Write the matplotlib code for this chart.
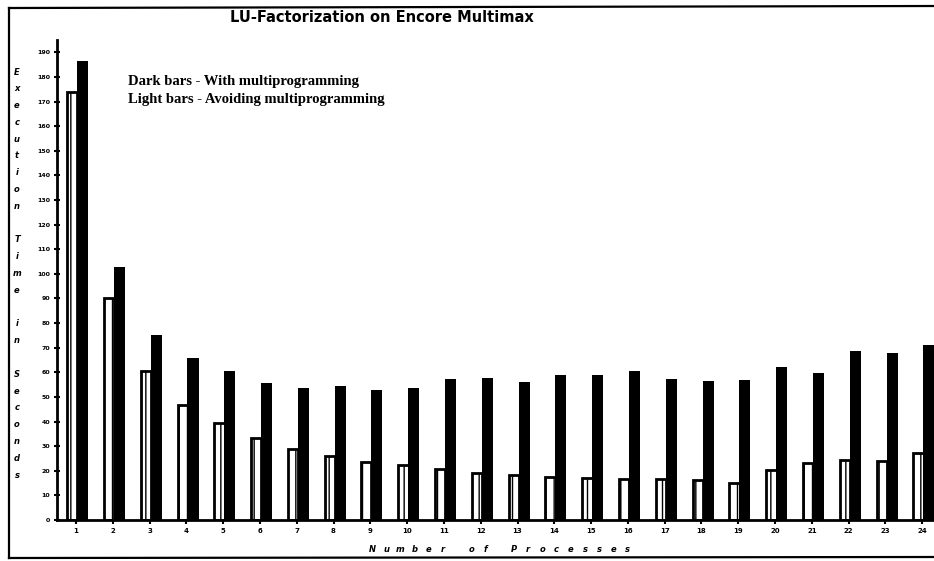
import matplotlib
matplotlib.use("Agg")
import matplotlib.pyplot as plt
from matplotlib.lines import Line2D
import numpy as np

# number of processes on the x axis
procs = list(range(1, 25))

# execution time in seconds
avoid_mp = [174, 90, 60.6, 46.7, 39.4, 33.5, 29, 26, 23.6, 22.2, 20.9, 19.2,
            18.3, 17.6, 16.9, 16.5, 16.5, 16.1, 14.9, 20.2, 23.2, 24.3, 24, 27.4]
with_mp = [186.4, 102.6, 75.2, 65.9, 60.6, 55.8, 53.8, 54.5, 52.7, 53.5, 57.2, 57.5,
           56.2, 59.1, 58.8, 60.4, 57.2, 56.5, 56.9, 62.3, 59.8, 68.6, 67.9, 71]

yticks = list(range(0, 200, 10))

title = "LU-Factorization on Encore Multimax"
note_dark = "Dark bars - With multiprogramming"
note_light = "Light bars - Avoiding multiprogramming"
ylabel = "Execution Time in Seconds"
xlabel = "Number of Processes"

plt.rcParams["hatch.linewidth"] = 1.0

W, H = 934, 561
fig = plt.figure(figsize=(W / 100, H / 100), dpi=100)
ax = fig.add_axes([57 / W, (H - 520) / H, (W - 57) / W, (520 - 40) / H])

x = np.array(procs)
bw = 0.28
# light bars (white with black outline, streaky texture from the scan)
ax.bar(x - 0.10, avoid_mp, width=bw, facecolor="white", edgecolor="black",
       linewidth=2.0, hatch="||", zorder=2)
# dark bars
ax.bar(x + 0.18, with_mp, width=bw + 0.02, color="black", zorder=3)

ax.set_xlim(0.484, 24.32)
ax.set_ylim(0, 195)
ax.set_xticks(procs)
ax.set_xticklabels([str(p) for p in procs], fontsize=5, fontweight="bold")
ax.set_yticks(yticks)
ax.set_yticklabels([str(t) for t in yticks], fontsize=4.5, fontweight="bold")
ax.tick_params(axis="y", direction="inout", length=4, width=1.5, pad=3)
ax.tick_params(axis="x", direction="out", length=3, width=1.5, pad=3)

for s in ["top", "right"]:
    ax.spines[s].set_visible(False)
for s in ["left", "bottom"]:
    ax.spines[s].set_linewidth(2)

# page frame of the scan
def px(xp, yp):
    return xp / W, 1 - yp / H

for (x0, y0), (x1, y1) in [((9, 8), (934, 6)), ((9, 8), (9, 558)), ((9, 558), (934, 557))]:
    a, b = px(x0, y0)
    c, d = px(x1, y1)
    fig.add_artist(Line2D([a, c], [b, d], color="black", linewidth=1.6))

fig.text(*px(382, 17), title, ha="center", va="center", fontsize=10.5,
         fontweight="bold", family="DejaVu Sans")
fig.text(*px(128, 81), note_dark, ha="left", va="center", fontsize=10.5,
         fontweight="bold", family="Liberation Serif")
fig.text(*px(128, 100), note_light, ha="left", va="center", fontsize=10.5,
         fontweight="bold", family="Liberation Serif")

# y label is stacked letter by letter
for k, ch in enumerate(ylabel):
    if ch != " ":
        fig.text(*px(17, 72 + k * 16.8), ch, ha="center", va="center", fontsize=6,
                 fontweight="bold", style="italic")

# x label is spaced out
for k, ch in enumerate(xlabel):
    if ch != " ":
        fig.text(*px(372 + k * 14.2, 550), ch, ha="center", va="center", fontsize=6,
                 fontweight="bold", style="italic")

fig.savefig("out.png", dpi=100)
